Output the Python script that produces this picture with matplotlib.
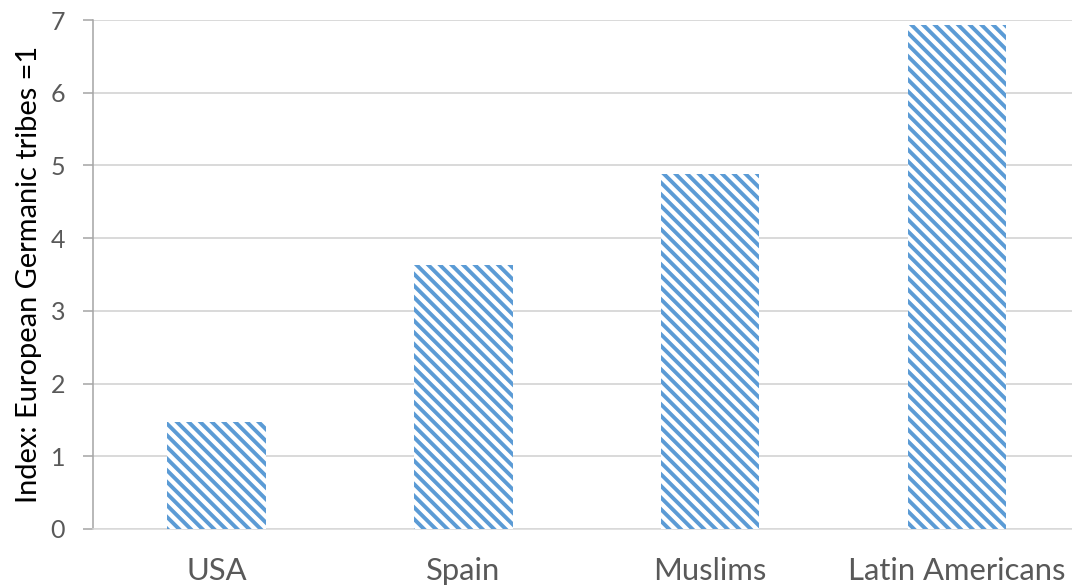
import numpy as np
import matplotlib
matplotlib.use("Agg")
import matplotlib.pyplot as plt

DPI = 140

categories = ["USA", "Spain", "Muslims", "Latin Americans"]
index_values = [1.47, 3.63, 4.88, 6.93]
y_ticks = [0, 1, 2, 3, 4, 5, 6, 7]

BLUE = "#5B9BD5"
GREY_TXT = "#595959"

plt.rcParams["font.family"] = ["Lato", "DejaVu Sans"]
plt.rcParams["hatch.linewidth"] = 2.0


def px2pt(px):
    return px * 72.0 / DPI


def plot_index_bars(figname="out.png"):
    fig = plt.figure(figsize=(1072 / DPI, 588 / DPI), dpi=DPI)
    ax = fig.add_axes([93 / 1072, 1 - 529 / 588, 1 - 93 / 1072, (529 - 20) / 588])

    x = np.arange(len(categories))
    ax.bar(x, index_values, width=0.4, facecolor="white", edgecolor=BLUE,
           linewidth=0, hatch="\\\\\\\\", zorder=3)

    ax.set_xlim(-0.5, 3.466)
    ax.set_ylim(0, 7)
    ax.set_yticks(y_ticks)
    ax.set_xticks(x)
    ax.set_xticklabels(categories)

    ax.grid(axis="y", color="#D9D9D9", linewidth=1.0, zorder=0)
    for s in ["top", "right"]:
        ax.spines[s].set_visible(False)
    ax.spines["left"].set_color("#A6A6A6")
    ax.spines["bottom"].set_color("#D9D9D9")

    ax.tick_params(axis="y", length=px2pt(10), color="#A6A6A6",
                   labelsize=px2pt(25), labelcolor=GREY_TXT, pad=px2pt(18))
    ax.tick_params(axis="x", length=0, labelsize=px2pt(31),
                   labelcolor=GREY_TXT, pad=px2pt(28))

    ax.set_ylabel("Index: European Germanic tribes =1", fontsize=px2pt(29),
                  color="black", labelpad=px2pt(8))

    fig.savefig(figname, dpi=DPI)
    plt.close(fig)


if __name__ == "__main__":
    plot_index_bars()
